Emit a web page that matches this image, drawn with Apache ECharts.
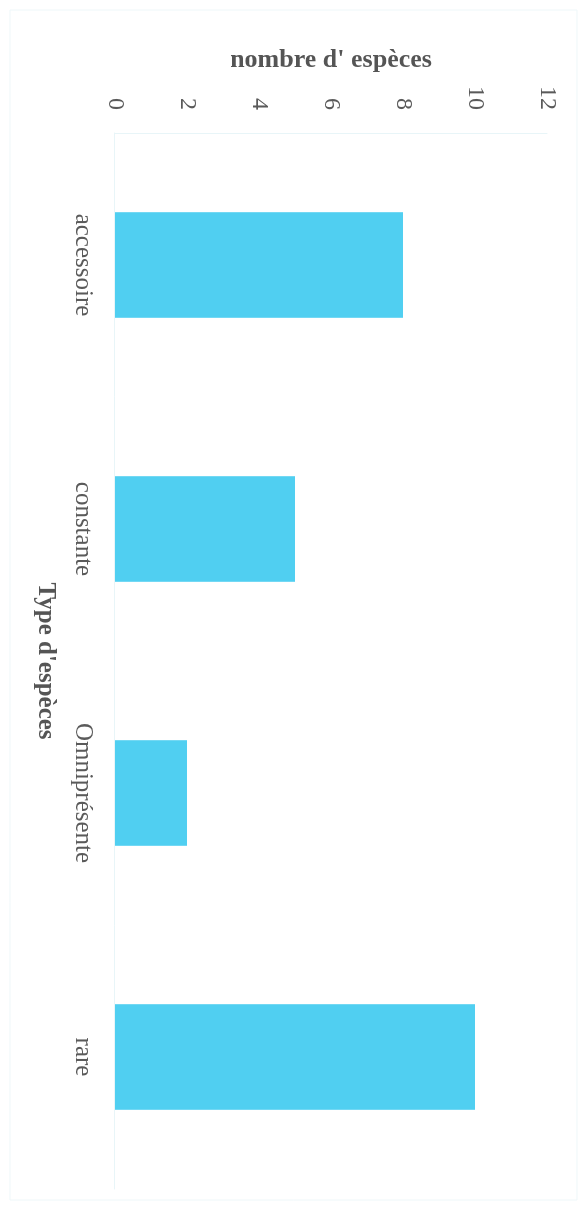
<!DOCTYPE html>
<html>
<head>
<meta charset="utf-8">
<script src="https://cdn.jsdelivr.net/npm/echarts@6/dist/echarts.min.js"></script>
<style>
  html, body { margin: 0; padding: 0; background: #fff; width: 587px; height: 1210px; overflow: hidden; }
  #chart { position: absolute; left: 0; top: 0; width: 1210px; height: 587px;
           transform-origin: 0 0; transform: translate(587px, 0) rotate(90deg); }
</style>
</head>
<body>
<div id="chart"></div>
<script>
const categories = ["accessoire", "constante", "Omniprésente", "rare"];
const values = [8, 5, 2, 10];
const valueTicks = [0, 2, 4, 6, 8, 10, 12];
const xTitle = "Type d'espèces";
const yTitle = "nombre d' espèces";

const chart = echarts.init(document.getElementById('chart'));
const font = '"Liberation Serif", "DejaVu Serif", serif';
chart.setOption({
  animation: false,
  backgroundColor: '#ffffff',
  grid: { left: 133, right: 21, top: 40, bottom: 115 },
  xAxis: {
    type: 'category',
    data: categories,
    name: xTitle,
    nameLocation: 'middle',
    nameGap: 57,
    nameTextStyle: { fontFamily: font, fontSize: 25, fontWeight: 'bold', color: '#555' },
    axisLine: { show: true, lineStyle: { color: '#e8f5f8', width: 1 } },
    axisTick: { show: false },
    axisLabel: { fontFamily: font, fontSize: 25, color: '#5a5a5a', margin: 20 },
    splitLine: { show: false }
  },
  yAxis: {
    type: 'value',
    min: valueTicks[0],
    max: valueTicks[valueTicks.length - 1],
    interval: valueTicks[1] - valueTicks[0],
    name: yTitle,
    nameLocation: 'middle',
    nameGap: 60,
    nameTextStyle: { fontFamily: font, fontSize: 26, fontWeight: 'bold', color: '#555' },
    axisLine: { show: true, lineStyle: { color: '#e8f5f8', width: 1 } },
    axisTick: { show: false },
    axisLabel: { fontFamily: font, fontSize: 24, color: '#5a5a5a', margin: 23 },
    splitLine: { show: false }
  },
  series: [{
    type: 'bar',
    data: values,
    barCategoryGap: '60%',
    itemStyle: { color: '#50cff1' }
  }],
  graphic: [{
    type: 'rect',
    shape: { x: 10, y: 10, width: 1190, height: 567 },
    style: { fill: 'none', stroke: '#eef7f9', lineWidth: 1 },
    silent: true
  }]
});
</script>
</body>
</html>
